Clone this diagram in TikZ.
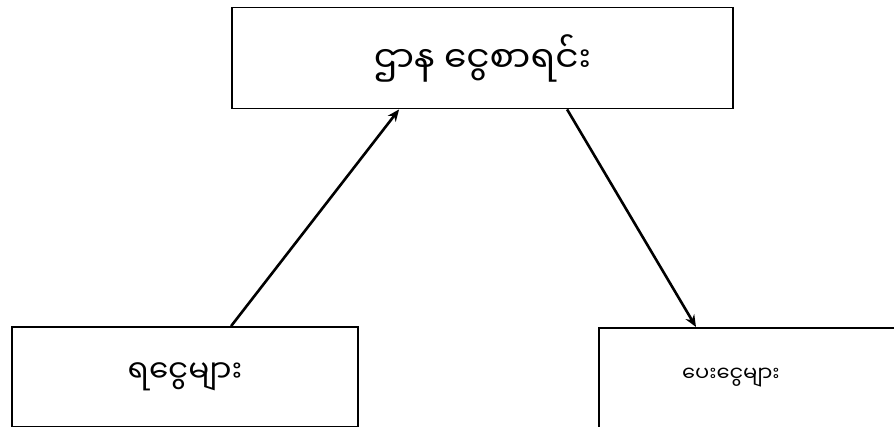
\documentclass[tikz,border=0pt]{standalone}
\usepackage{fontspec}
\newfontfamily\mmfont[Script=Myanmar]{Noto Sans Myanmar UI}
\usetikzlibrary{calc,arrows.meta}
\begin{document}
\begin{tikzpicture}[x=1pt,y=1pt,
  boxstyle/.style={draw=black, line width=1.8pt, fill=white, inner sep=0pt, font=\mmfont},
  flow/.style={line width=2.6pt, -{Stealth[length=12pt,width=10pt]}}]
\useasboundingbox (0,0) rectangle (894,426);
\node[boxstyle, minimum width=501, minimum height=101, font=\mmfont\fontsize{36}{42}\selectfont] (top) at (482.5,368) {ဌာန ငွေစာရင်း};
\node[boxstyle, minimum width=346, minimum height=100, font=\mmfont\fontsize{31}{36}\selectfont] (lb) at (185,49) {ရငွေများ};
\node[boxstyle, anchor=north west, minimum height=100, font=\mmfont\fontsize{21}{25}\selectfont] (rb) at (598,99) {\makebox[264pt]{ပေးငွေများ}\hspace*{50pt}};
\draw[flow] ($(lb.north west)+(220,0)$) -- ($(top.south west)+(168,0)$);
\draw[flow] ($(top.south west)+(336,0)$) -- ($(rb.north west)+(98,0)$);
\end{tikzpicture}
\end{document}
